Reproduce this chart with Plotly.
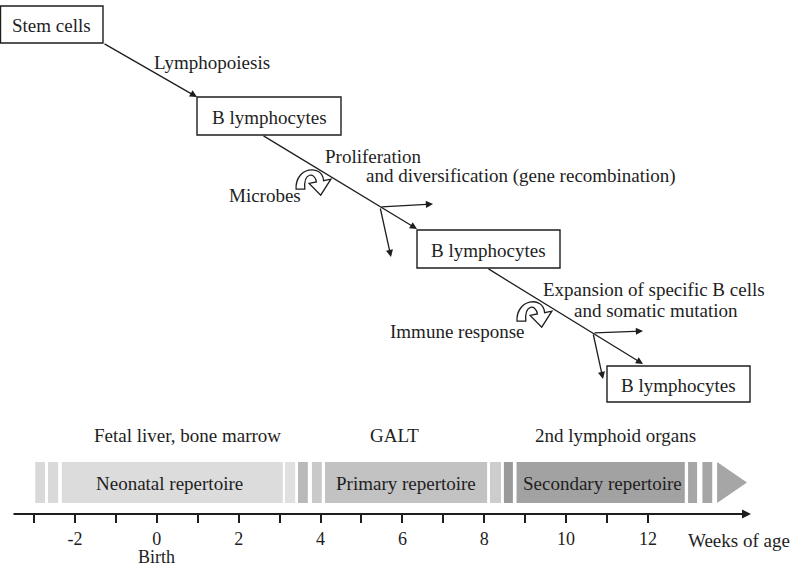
import plotly.graph_objects as go

# ---------------- data ----------------
# timeline segments (weeks of age): start, end, fill
seg_start = [-2.97, -2.66, -2.32, 3.13, 3.45, 3.79, 4.11, 8.14, 8.48, 8.79, 12.98, 13.33]
seg_end   = [-2.73, -2.41, 3.08, 3.38, 3.69, 4.03, 8.07, 8.41, 8.70, 12.90, 13.20, 13.57]
seg_color = ["#d9d9d9", "#d9d9d9", "#dcdcdc", "#e0e0e0", "#b9b9b9", "#c9c9c9",
             "#c2c2c2", "#cdcdcd", "#9a9a9a", "#a2a2a2", "#a6a6a6", "#a6a6a6"]
arrow_start, arrow_end = 13.69, 14.42

repertoire_labels = ["Neonatal repertoire", "Primary repertoire", "Secondary repertoire"]
repertoire_centers = [0.3, 6.1, 10.9]
site_labels = ["Fetal liver, bone marrow", "GALT", "2nd lymphoid organs"]
site_centers = [0.75, 5.8, 11.2]

major_ticks = [-2, 0, 2, 4, 6, 8, 10, 12]
major_text = ["-2", "0", "2", "4", "6", "8", "10", "12"]
minor_ticks = [-3, -1, 1, 3, 5, 7, 9, 11]
birth_week = 0
birth_label = "Birth"
axis_label = "Weeks of age"

# flow diagram (page pixel units)
box_labels = ["Stem cells", "B lymphocytes", "B lymphocytes", "B lymphocytes"]
box_x0 = [0.5, 197, 417, 607]
box_x1 = [103, 341, 560, 750]
box_y0 = [6, 97, 230, 366]
box_y1 = [43, 135, 268, 402]

FONT = "Liberation Serif"
INK = "#1e1e1e"

# ---------------- mapping ----------------
PX0 = 156.8      # pixel of week 0
PPW = 40.93      # pixels per week
W, H = 799, 566
xr = [(0 - PX0) / PPW, (W - PX0) / PPW]

def wk(px):
    return (px - PX0) / PPW

fig = go.Figure()

# timeline bar segments
fig.add_trace(go.Bar(
    orientation="h",
    base=seg_start,
    x=[e - s for s, e in zip(seg_start, seg_end)],
    y=[482.5] * len(seg_start),
    width=41,
    marker=dict(color=seg_color, line=dict(width=0)),
    xaxis="x", yaxis="y", hoverinfo="skip", showlegend=False,
))
# arrow tip of the bar
fig.add_trace(go.Scatter(
    x=[arrow_start, arrow_end, arrow_start, arrow_start],
    y=[462, 482.5, 503, 462],
    fill="toself", fillcolor="#a6a6a6", mode="lines",
    line=dict(width=0, color="#a6a6a6"),
    xaxis="x", yaxis="y", hoverinfo="skip", showlegend=False,
))
# invisible trace to activate x2
fig.add_trace(go.Scatter(x=[0, 799], y=[0, 566], mode="markers",
                         marker=dict(opacity=0), xaxis="x2", yaxis="y",
                         hoverinfo="skip", showlegend=False))

shapes = []
annotations = []

# boxes
for lab, x0, x1, y0, y1 in zip(box_labels, box_x0, box_x1, box_y0, box_y1):
    shapes.append(dict(type="rect", xref="x2", yref="y", x0=x0, x1=x1, y0=y0, y1=y1,
                       line=dict(color=INK, width=1.4), fillcolor="white", layer="above"))
    annotations.append(dict(xref="x2", yref="y", x=(x0 + x1) / 2, y=(y0 + y1) / 2 + 1,
                            text=lab, showarrow=False,
                            font=dict(family=FONT, size=19, color=INK)))

# flow arrows: (tail_x, tail_y, head_x, head_y)
flow = [
    (103, 43, 197, 97),
    (262, 135, 417, 229),
    (487, 268, 643, 364),
    (380, 207, 433, 204),
    (380, 207, 391, 257),
    (593, 333, 643, 331),
    (593, 333, 603, 379),
]
for tx, ty, hx, hy in flow:
    annotations.append(dict(xref="x2", yref="y", axref="x2", ayref="y",
                            x=hx, y=hy, ax=tx, ay=ty, text="", showarrow=True,
                            arrowhead=2, arrowsize=1.1, arrowwidth=1.3,
                            arrowcolor=INK, standoff=0, startstandoff=0))

# curved hollow arrows
def curved(cx, cy, s=1.45):
    pts = [(-11, 5), (-12, -10), (7, -13), (8, -1), (13, -2), (6, 9), (-2, 1),
           (3, 0), (2, -7), (-6, -7), (-5, 5)]
    p = [(cx + s * dx, cy + s * dy) for dx, dy in pts]
    f = lambda q: f"{q[0]:.1f},{q[1]:.1f}"
    return (f"M {f(p[0])} C {f(p[1])} {f(p[2])} {f(p[3])} "
            f"L {f(p[4])} L {f(p[5])} L {f(p[6])} L {f(p[7])} "
            f"C {f(p[8])} {f(p[9])} {f(p[10])} Z")

for cx, cy in [(312, 182), (533, 314)]:
    shapes.append(dict(type="path", xref="x2", yref="y", path=curved(cx, cy),
                       line=dict(color=INK, width=1.3), fillcolor="white", layer="above"))

# diagram texts
texts = [
    ("Lymphopoiesis", 152, 62, "left"),
    ("Proliferation", 323, 156, "left"),
    ("and diversification (gene recombination)", 364, 176, "left"),
    ("Microbes", 303, 195, "right"),
    ("Expansion of specific B cells", 541, 289, "left"),
    ("and somatic mutation", 572, 310, "left"),
    ("Immune response", 527, 331, "right"),
]
for t, x, y, anc in texts:
    annotations.append(dict(xref="x2", yref="y", x=x, y=y, text=t, showarrow=False,
                            xanchor=anc, font=dict(family=FONT, size=19, color=INK)))

# timeline texts
for t, c in zip(repertoire_labels, repertoire_centers):
    annotations.append(dict(xref="x", yref="y", x=c, y=483, text=t, showarrow=False,
                            font=dict(family=FONT, size=19, color=INK)))
for t, c in zip(site_labels, site_centers):
    annotations.append(dict(xref="x", yref="y", x=c, y=435, text=t, showarrow=False,
                            font=dict(family=FONT, size=19, color=INK)))
annotations.append(dict(xref="x2", yref="y", x=686, y=540, text=axis_label,
                        showarrow=False, xanchor="left",
                        font=dict(family=FONT, size=19, color=INK)))
annotations.append(dict(xref="x", yref="y", x=birth_week, y=557, text=birth_label,
                        showarrow=False, font=dict(family=FONT, size=18, color=INK)))

# time axis line with arrow
annotations.append(dict(xref="x", yref="y", axref="x", ayref="y",
                        x=wk(751), y=514, ax=wk(12), ay=514, text="", showarrow=True,
                        arrowhead=2, arrowsize=1.0, arrowwidth=1.8, arrowcolor=INK,
                        standoff=0, startstandoff=0))

fig.update_layout(
    width=W, height=H, margin=dict(l=0, r=0, t=0, b=0, autoexpand=False),
    paper_bgcolor="white", plot_bgcolor="white",
    barmode="overlay", showlegend=False,
    shapes=shapes, annotations=annotations,
    xaxis=dict(range=xr, domain=[0, 1], anchor="free", position=1 - 514 / H,
               automargin=False,
               showgrid=False, zeroline=False, showline=False,
               tickmode="array", tickvals=major_ticks, ticktext=major_text,
               ticks="outside", ticklen=8, tickwidth=1.5, tickcolor=INK,
               ticklabelstandoff=0,
               tickfont=dict(family=FONT, size=18, color=INK),
               minor=dict(tickvals=minor_ticks, ticks="outside", ticklen=8,
                          tickwidth=1.5, tickcolor=INK, showgrid=False),
               fixedrange=True),
    xaxis2=dict(range=[0, W], domain=[0, 1], overlaying="x", visible=False,
                automargin=False,
                showgrid=False, zeroline=False, fixedrange=True),
    yaxis=dict(range=[H, 0], domain=[0, 1], visible=False, showgrid=False,
               automargin=False,
               zeroline=False, fixedrange=True),
)

fig.write_html("out.html",
               config={"displayModeBar": False},
               post_script="document.body.style.margin='0px';"
                           "document.body.style.padding='0px';"
                           "document.body.style.overflow='hidden';")
